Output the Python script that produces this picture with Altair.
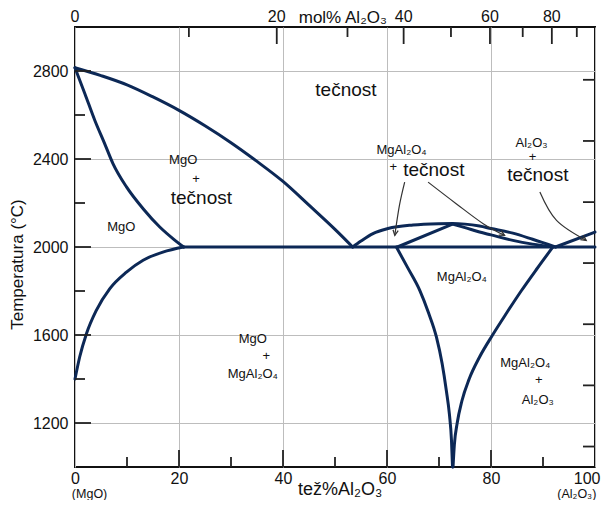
import altair as alt
import pandas as pd
import numpy as np

FONT = "Liberation Sans"
LINE = "#0c2856"
INK = "#111111"

# ---------------- phase boundaries (x = wt% Al2O3, T = deg C) ----------------
mgo_liq_x = [0, 5, 10, 15, 20, 25, 30, 35, 40, 45, 50, 53.4]
mgo_liq_T = [2815, 2779, 2737, 2682, 2621, 2551, 2474, 2389, 2298, 2190, 2080, 2000]

mgo_sol_x = [0, 1.9, 3.8, 5.7, 7.3, 9.9, 13.1, 16.3, 19, 20.9]
mgo_sol_T = [2815, 2697, 2576, 2470, 2379, 2273, 2174, 2091, 2035, 2000]

mgo_solv_x = [0, 0.9, 2.2, 4.1, 6.7, 9.9, 13.1, 16.9, 20.9]
mgo_solv_T = [1400, 1500, 1606, 1712, 1811, 1886, 1940, 1977, 2000]

eut_x = [20.9, 100]
eut_T = [2000, 2000]

sp_liq_x = [53.4, 55, 57.3, 60.2, 65, 70, 72.6, 75, 77.8, 80, 84.2, 88, 92.4]
sp_liq_T = [2000, 2027, 2061, 2084, 2100, 2106, 2107, 2104, 2095, 2084, 2063, 2035, 2000]

sp_solL_x = [62, 72.6]
sp_solL_T = [2000, 2104]

sp_solR_x = [72.6, 75, 77.8, 80, 84.2, 88, 92]
sp_solR_T = [2104, 2088, 2068, 2055, 2030, 2013, 2000]

al_liq_x = [92.4, 100]
al_liq_T = [2000, 2068]

sp_solvL_x = [61.8, 64, 66.3, 68, 69.5, 70.6, 71.4, 72, 72.4, 72.6]
sp_solvL_T = [2000, 1905, 1803, 1700, 1591, 1470, 1349, 1240, 1121, 1000]

sp_solvR_x = [72.7, 72.95, 73.5, 74.4, 75.8, 77.8, 80.3, 83.0, 85.8, 88.8, 91.9]
sp_solvR_T = [1000, 1100, 1200, 1300, 1400, 1500, 1600, 1700, 1800, 1900, 2000]

curve_defs = [
    ("mgo_liq", mgo_liq_x, mgo_liq_T),
    ("mgo_sol", mgo_sol_x, mgo_sol_T),
    ("mgo_solv", mgo_solv_x, mgo_solv_T),
    ("eut", eut_x, eut_T),
    ("sp_liq", sp_liq_x, sp_liq_T),
    ("sp_solL", sp_solL_x, sp_solL_T),
    ("sp_solR", sp_solR_x, sp_solR_T),
    ("al_liq", al_liq_x, al_liq_T),
    ("sp_solvL", sp_solvL_x, sp_solvL_T),
    ("sp_solvR", sp_solvR_x, sp_solvR_T),
]
curves = pd.DataFrame(
    [{"curve": n, "x": x, "T": t} for n, xs, ts in curve_defs for x, t in zip(xs, ts)]
)

# ---------------- annotation arrows ----------------
arrow_defs = [
    ("a1", [63.4, 62.4, 61.5], [2295, 2190, 2053]),
    ("a2", [67.9, 73.3, 78.5, 82.6], [2295, 2197, 2106, 2053]),
    ("a3", [89.4, 92.6, 98.3], [2250, 2121, 2030]),
]
arrows = pd.DataFrame(
    [{"arrow": n, "i": i, "x": x, "T": t}
     for n, xs, ts in arrow_defs for i, (x, t) in enumerate(zip(xs, ts))]
)
PX_PER_X, PX_PER_T = 520 / 100, 440 / 2000
heads = []
for n, xs, ts in arrow_defs:
    dx = (xs[-1] - xs[-2]) * PX_PER_X
    dy = -(ts[-1] - ts[-2]) * PX_PER_T
    ang = (np.degrees(np.arctan2(dx, -dy)) + 360) % 360
    heads.append({"x": xs[-1], "T": ts[-1], "ang": float(ang)})
heads = pd.DataFrame(heads)

# ---------------- region labels ----------------
lab_text = ["tečnost", "MgO", "+", "tečnost", "MgO",
            "MgO", "+", "MgAl₂O₄",
            "MgAl₂O₄", "+", "tečnost",
            "Al₂O₃", "+", "tečnost",
            "MgAl₂O₄",
            "MgAl₂O₄", "+", "Al₂O₃"]
lab_x = [52.1, 20.8, 23.3, 24.3, 8.9,
         34.2, 36.8, 34.2,
         62.8, 61.2, 69.0,
         87.8, 88.0, 89.0,
         74.4,
         86.6, 89.2, 89.0]
lab_T = [2712, 2394, 2310, 2225, 2091,
         1584, 1503, 1425,
         2443, 2364, 2349,
         2475, 2408, 2328,
         1862,
         1474, 1394, 1303]
lab_size = [19, 13, 13, 19, 13,
            13, 13, 13,
            13, 13, 19,
            13, 13, 19,
            13,
            13, 13, 13]
labels = pd.DataFrame({"text": lab_text, "x": lab_x, "T": lab_T, "fs": lab_size})

# ---------------- axis ticks ----------------
x_labels = [0, 20, 40, 60, 80, 100]
x_major = [20, 40, 60, 80]
x_minor = [10, 30, 50, 70, 90]
y_major = [1200, 1600, 2000, 2400, 2800]
y_minor = [1400, 1800, 2200, 2600]
# right-hand ticks (deg F scale, 2000..5000 F) located in deg C
y_right = [1093, 1371, 1649, 1927, 2204, 2482, 2760]
# top mol% axis: tick positions read in wt% coordinates
top_major_lab = ["0", "20", "40", "60", "80"]
top_major_pos = [0, 38.8, 63.2, 79.8, 91.7]
top_minor_pos = [21.9, 52.4, 72.3, 86.1, 96.5]

W, H = 520, 440
xs = alt.Scale(domain=[0, 100], nice=False, zero=False)
ys = alt.Scale(domain=[1000, 3000], nice=False, zero=False)

X_AX = alt.Axis(
    values=x_labels, title=None, grid=True, gridColor="#bdbdbd", format="d",
    gridWidth=1, ticks=False, domain=False, labelFontSize=16, labelColor=INK,
    labelPadding=3, labelFlush=False, labelFont=FONT,
    labelAlign={"condition": {"test": "datum.value >= 100", "value": "right"}, "value": "center"},
    labelOffset={"condition": {"test": "datum.value >= 100", "value": 5}, "value": 0},
)
Y_AX = alt.Axis(
    values=y_major, title="Temperatura (°C)", grid=True, gridColor="#bdbdbd", format="d",
    gridWidth=1, ticks=False, domain=False, labelFontSize=16, labelColor=INK,
    labelPadding=7, labelFont=FONT, titleFont=FONT, titleFontSize=17,
    titleFontWeight="normal", titleColor=INK, titleAngle=270, titleX=-58,
    titleY=237, titleAlign="center", titleBaseline="middle")


def X(field="x"):
    return alt.X(f"{field}:Q", scale=xs, axis=X_AX)


def Y(field="T"):
    return alt.Y(f"{field}:Q", scale=ys, axis=Y_AX)


lines = alt.Chart(curves).mark_line(
    color=LINE, strokeWidth=3, interpolate="monotone", strokeCap="round", strokeJoin="round"
).encode(x=X(), y=Y(), detail="curve:N")


def xrule(vals, y0, y1):
    return alt.Chart(pd.DataFrame({"x": vals})).mark_rule(color="#222", strokeWidth=1.8).encode(
        x=X(), y=alt.value(y0), y2=alt.value(y1))


def yrule(vals, x0, x1):
    return alt.Chart(pd.DataFrame({"T": vals})).mark_rule(color="#222", strokeWidth=1.8).encode(
        y=Y(), x=alt.value(x0), x2=alt.value(x1))


ticks = [
    xrule(x_major, H, H - 17), xrule(x_minor, H, H - 10),
    xrule(top_major_pos[1:], 0, 17), xrule(top_minor_pos, 0, 10),
    yrule(y_major, 0, 16), yrule(y_minor, 0, 10),
    yrule(y_right, W - 12, W),
]

arrow_lines = alt.Chart(arrows).mark_line(
    color="#333", strokeWidth=1.2, interpolate="cardinal"
).encode(x=X(), y=Y(), detail="arrow:N", order="i:Q")

arrow_heads = alt.Chart(heads).mark_point(
    shape="M -0.5 1 L 0 0 L 0.5 1", filled=False, color="#333", strokeWidth=1.3, size=110, opacity=1
).encode(x=X(), y=Y(), angle=alt.Angle("ang:Q", scale=None))

text = alt.Chart(labels).mark_text(font=FONT, color=INK, baseline="middle", align="center").encode(
    x=X(), y=Y(), text="text:N", size=alt.Size("fs:Q", scale=None),
)

top_labels = alt.Chart(pd.DataFrame({"x": top_major_pos, "t": top_major_lab})).mark_text(
    font=FONT, fontSize=16, color=INK, baseline="middle", align="center"
).encode(x=X(), y=alt.value(-10), text="t:N")

top_title = alt.Chart(pd.DataFrame({"x": [51.5], "t": ["mol% Al₂O₃"]})).mark_text(
    font=FONT, fontSize=17, color=INK, baseline="middle", align="center"
).encode(x=X(), y=alt.value(-9), text="t:N")

bottom_notes = alt.Chart(pd.DataFrame({
    "x": [2.8, 51.0, 96.5],
    "t": ["(MgO)", "tež%Al₂O₃", "(Al₂O₃)"],
    "fs": [12.5, 18, 12.5],
    "yy": [H + 27, H + 23, H + 27],
})).mark_text(font=FONT, color=INK, baseline="middle", align="center").encode(
    x=X(), y=alt.Y("yy:Q", scale=None), text="t:N",
    size=alt.Size("fs:Q", scale=None),
)

chart = alt.layer(
    lines, *ticks, arrow_lines, arrow_heads, text, top_labels, top_title, bottom_notes
).properties(
    width=W, height=H,
    padding={"left": 67, "top": 19, "right": 6, "bottom": 33},
    autosize=alt.AutoSizeParams(type="none"),
    background="white",
).configure_view(stroke=INK, strokeWidth=2)

chart.save("out.html", embed_options={"renderer": "svg", "actions": False})
